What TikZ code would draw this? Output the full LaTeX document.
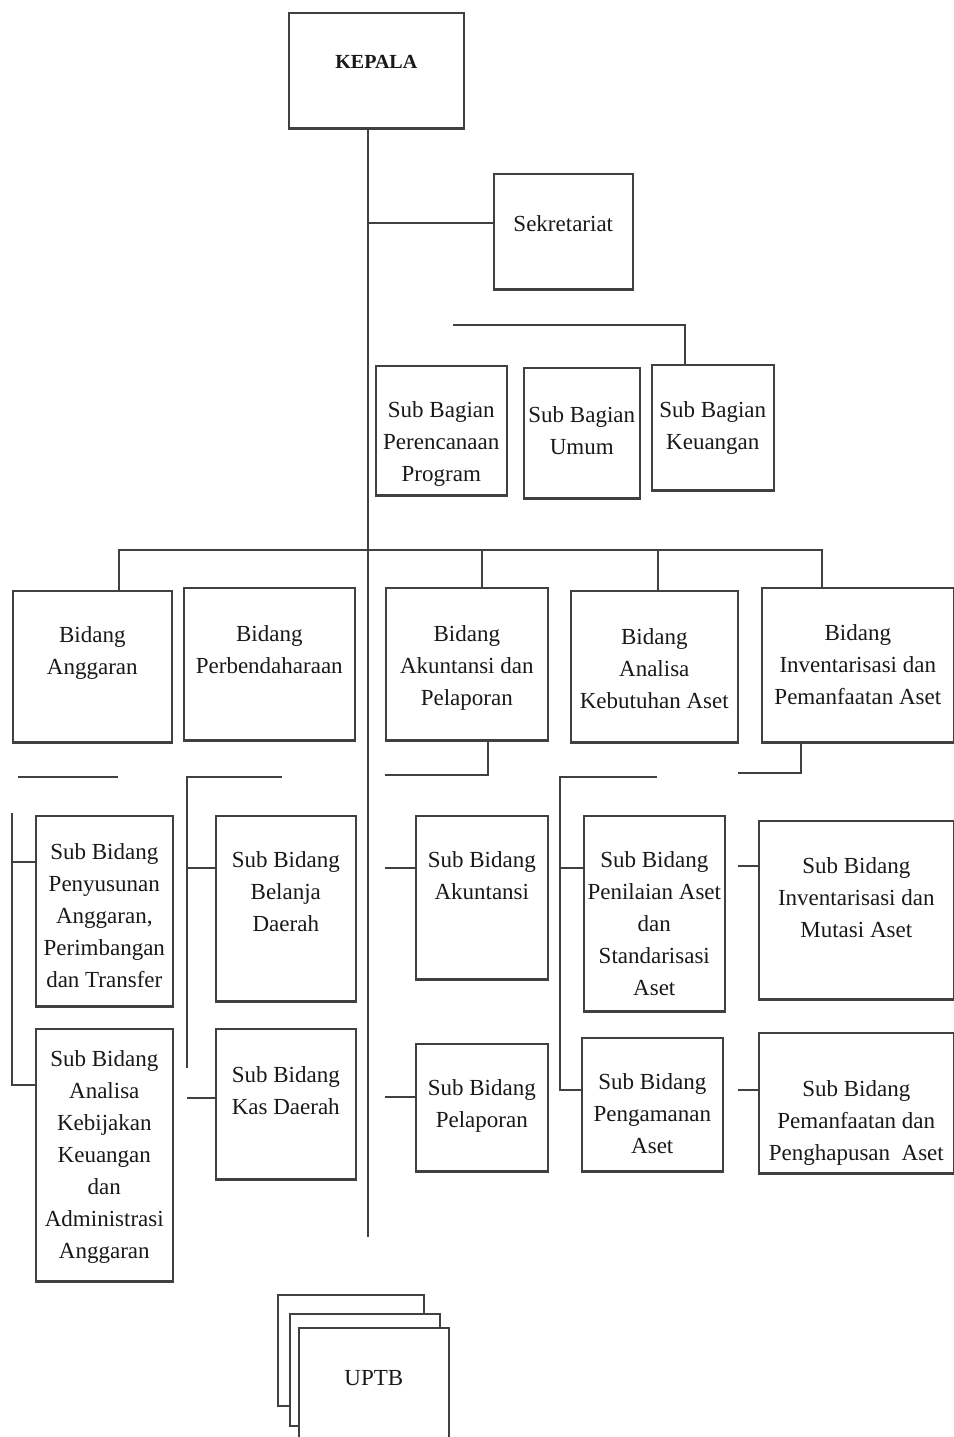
\documentclass[tikz,border=0pt]{standalone}
\usepackage{fontspec}
\setmainfont{Liberation Serif}

\newcommand\orgfont{\fontsize{11.5}{16}\selectfont}
\newcommand\headfont{\bfseries\fontsize{10}{12}\selectfont}

\begin{document}
\begin{tikzpicture}[
    x=0.5pt, y=-0.5pt,
    every node/.style={text=black!90},
    box/.style 2 args={draw=black!75, line width=0.8pt, fill=white, inner sep=0pt,
        anchor=north west, minimum width=#1*0.5pt, minimum height=#2*0.5pt},
    txt/.style={align=center, anchor=north, yshift=-#1pt, font=\orgfont},
    txt/.default=15,
    conn/.style={line width=1.1pt, black!75},
    base/.style={line width=1.5pt, black!75},
]
\useasboundingbox (0,0) rectangle (954,1437);

% Top
\node[box={175}{115}, label={[txt=18, font=\headfont]above:KEPALA}] (kepala) at (288,12) {};
\node[box={139}{115}, label={[txt=17.5]above:Sekretariat}] (sek) at (493,173) {};

% Sub Bagian
\node[box={131}{129}, label={[txt=14.5]above:{Sub Bagian\\Perencanaan\\Program}}] (sbpp) at (375,365) {};
\node[box={116}{130}, label={[txt=16]above:{Sub Bagian\\Umum}}] (sbum) at (523,367) {};
\node[box={122}{125}, label={[txt]above:{Sub Bagian\\Keuangan}}] (sbku) at (651,364) {};

% Bidang
\node[box={159}{151}, label={[txt=14.5]above:{Bidang\\Anggaran}}] (bang) at (12,590) {};
\node[box={171}{152}, label={[txt=15.5]above:{Bidang\\Perbendaharaan}}] (bper) at (183,587) {};
\node[box={162}{152}, label={[txt=15.5]above:{Bidang\\Akuntansi dan\\Pelaporan}}] (bakp) at (385,587) {};
\node[box={167}{151}, label={[txt=15.5]above:{Bidang\\Analisa\\Kebutuhan Aset}}] (bakb) at (570,590) {};
\node[box={192}{154}, label={[txt]above:{Bidang\\Inventarisasi dan\\Pemanfaatan Aset}}] (binv) at (761,587) {};

% Sub Bidang
\node[box={137}{190}, label={[txt=10.5]above:{Sub Bidang\\Penyusunan\\Anggaran,\\Perimbangan\\dan Transfer}}] (sbpy) at (35,815) {};
\node[box={137}{252}, label={[txt=7.5]above:{Sub Bidang\\Analisa\\Kebijakan\\Keuangan\\dan\\Administrasi\\Anggaran}}] (sbak) at (35,1028) {};
\node[box={140}{185}, label={[txt=14.5]above:{Sub Bidang\\Belanja\\Daerah}}] (sbbd) at (215,815) {};
\node[box={140}{150}, label={[txt=15.5]above:{Sub Bidang\\Kas Daerah}}] (sbkd) at (215,1028) {};
\node[box={132}{163}, label={[txt=14.5]above:{Sub Bidang\\Akuntansi}}] (sbakt) at (415,815) {};
\node[box={132}{127}, label={[txt=14.5]above:{Sub Bidang\\Pelaporan}}] (sbpl) at (415,1043) {};
\node[box={141}{195}, label={[txt=14.5]above:{Sub Bidang\\Penilaian Aset\\dan\\Standarisasi\\Aset}}] (sbpn) at (583,815) {};
\node[box={141}{133}, label={[txt=14.5]above:{Sub Bidang\\Pengamanan\\Aset}}] (sbpg) at (581,1037) {};
\node[box={195}{178}, label={[txt]above:{Sub Bidang\\Inventarisasi dan\\Mutasi Aset}}] (sbim) at (758,820) {};
\node[box={195}{140}, label={[txt=20.5]above:{Sub Bidang\\Pemanfaatan dan\\Penghapusan~~Aset}}] (sbph) at (758,1032) {};

% heavier bottom edges
\foreach \n in {kepala, sek, sbpp, sbum, sbku, bang, bper, bakp, bakb, binv,
                sbpy, sbak, sbbd, sbkd, sbakt, sbpl, sbpn, sbpg, sbim, sbph} {
    \draw[base] (\n.south west) -- (\n.south east);
}

% UPTB (stacked)
\node[box={146}{111}] (uptb1) at (277,1294) {};
\node[box={150}{112}] (uptb2) at (289,1313) {};
\node[box={150}{124}, label={[txt=18]above:UPTB}] (uptb3) at (298,1327) {};

% Main line
\coordinate (spineEnd) at (368,1237);
\draw[conn] (kepala.south -| spineEnd) -- (spineEnd);
\draw[conn] ([yshift=4pt]sek.west) -| (spineEnd);

% Sub Bagian bracket
\coordinate (sbL) at (453,325);
\draw[conn] (sbL) -| ([xshift=-14pt]sbku.north);

% Bidang bar
\coordinate (barL) at (118,550);
\foreach \b/\s in {bang/13.25, bakp/7.5, bakb/1.75, binv/-17.75} {
    \draw[conn] ([xshift=\s pt]\b.north) |- (barL);
}

% Anggaran branch
\coordinate (angA) at (18,777);
\coordinate (angB) at (118,777);
\coordinate (angV) at (12,813);
\draw[conn] (angA) -- (angB);
\draw[conn] (angV) |- ([yshift=-28.5pt]sbak.north west);
\draw[conn] ([yshift=-23.5pt]sbpy.north west) -| (angV);

% Perbendaharaan branch
\coordinate (perA) at (282,777);
\coordinate (perV) at (187,1068);
\draw[conn] (perA) -| (perV);
\draw[conn] ([yshift=-26.5pt]sbbd.north west) -- +(-28,0);
\draw[conn] ([yshift=-35pt]sbkd.north west) -- +(-28,0);

% Akuntansi branch
\coordinate (akA) at (385,775);
\draw[conn] ([xshift=10.5pt]bakp.south) |- (akA);
\draw[conn] ([yshift=-26.5pt]sbakt.north west) -- +(-30,0);
\draw[conn] ([yshift=-27pt]sbpl.north west) -- +(-30,0);

% Analisa Kebutuhan branch
\coordinate (akbA) at (657,777);
\coordinate (akbV) at (560,777);
\draw[conn] (akbA) -- (akbV) |- ([yshift=-26.5pt]sbpg.north west);
\draw[conn] ([yshift=-26.5pt]sbpn.north west) -| (akbV);

% Inventarisasi branch
\coordinate (invA) at (738,773);
\draw[conn] ([xshift=-28.5pt]binv.south) |- (invA);
\draw[conn] ([yshift=-23pt]sbim.north west) -- +(-20,0);
\draw[conn] ([yshift=-29pt]sbph.north west) -- +(-20,0);

\end{tikzpicture}
\end{document}
